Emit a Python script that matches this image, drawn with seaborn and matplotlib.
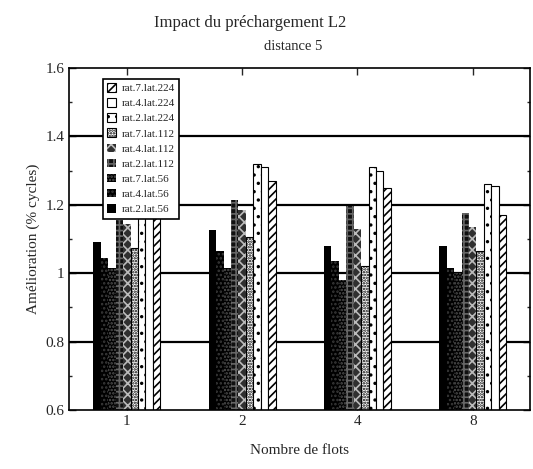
import pandas as pd
import matplotlib
import seaborn as sns
from matplotlib import pyplot as plt
from matplotlib.patches import Patch

matplotlib.use('Agg')

# data
flots = ['1', '2', '4', '8']
series = ['rat.2.lat.56', 'rat.4.lat.56', 'rat.7.lat.56',
          'rat.2.lat.112', 'rat.4.lat.112', 'rat.7.lat.112',
          'rat.2.lat.224', 'rat.4.lat.224', 'rat.7.lat.224']
rat2_lat56 = [1.09, 1.125, 1.08, 1.08]
rat4_lat56 = [1.045, 1.065, 1.035, 1.015]
rat7_lat56 = [1.015, 1.015, 0.98, 1.00]
rat2_lat112 = [1.155, 1.215, 1.195, 1.175]
rat4_lat112 = [1.145, 1.185, 1.13, 1.135]
rat7_lat112 = [1.075, 1.105, 1.02, 1.065]
rat2_lat224 = [1.25, 1.32, 1.31, 1.26]
rat4_lat224 = [1.24, 1.31, 1.30, 1.255]
rat7_lat224 = [1.22, 1.27, 1.25, 1.17]
yticks = [0.6, 0.8, 1.0, 1.2, 1.4, 1.6]
ytick_labels = ['0.6', '0.8', '1', '1.2', '1.4', '1.6']

values = [rat2_lat56, rat4_lat56, rat7_lat56, rat2_lat112, rat4_lat112,
          rat7_lat112, rat2_lat224, rat4_lat224, rat7_lat224]

rows = []
for name, vals in zip(series, values):
    for f, v in zip(flots, vals):
        rows.append({'flots': f, 'serie': name, 'val': v})
df = pd.DataFrame(rows)

# (facecolor, edgecolor, hatch, linewidth)
styles = [
    ('black', 'black', None, 0.0),
    ('black', '#3a3a3a', '....', 0.0),
    ('black', '#555555', '.....', 0.0),
    ('#101010', '#666666', '+++', 0.0),
    ('#303030', '#bbbbbb', 'xxx', 0.0),
    ('white', 'black', '......', 0.8),
    ('white', 'black', '..', 0.8),
    ('white', 'black', None, 0.8),
    ('white', 'black', '////', 0.8),
]

sns.set_style('ticks')
plt.rcParams['font.family'] = ['Liberation Serif', 'DejaVu Serif']
plt.rcParams['hatch.linewidth'] = 1.2

fig = plt.figure(figsize=(5.33, 4.69), dpi=100)
ax = fig.add_axes([0.13, 0.126, 0.865, 0.729])

ax = sns.barplot(data=df, x='flots', y='val', hue='serie', order=flots,
                 hue_order=series, width=0.58, errorbar=None, legend=False,
                 ax=ax, zorder=2)

for cont, (fc, ec, hatch, lw) in zip(ax.containers, styles):
    for bar in cont:
        bar.set_facecolor(fc)
        bar.set_edgecolor(ec)
        bar.set_hatch(hatch)
        bar.set_linewidth(lw)

for y in yticks[1:-1]:
    ax.axhline(y, color='black', lw=1.6, zorder=1)

ax.set_ylim(0.6, 1.6)
ax.set_xlim(-0.5, 3.5)
ax.set_yticks(yticks, ytick_labels)
ax.set_yticks([0.7, 0.9, 1.1, 1.3, 1.5], minor=True)
ax.tick_params(direction='in', top=True, right=True, labelsize=11,
               length=5, width=1)
ax.tick_params(which='minor', direction='in', left=True, right=True,
               length=2, width=1)
for s in ax.spines.values():
    s.set_linewidth(1.2)
    s.set_color('black')

ax.set_xlabel('Nombre de flots', fontsize=11, labelpad=12)
ax.set_ylabel('Amélioration (% cycles)', fontsize=11, labelpad=4)

handles = []
for name, (fc, ec, hatch, lw) in zip(series, styles):
    handles.append(Patch(facecolor=fc, edgecolor=ec, hatch=hatch,
                         linewidth=lw, label=name))
handles = handles[::-1]
leg = ax.legend(handles=handles, loc='upper left',
                bbox_to_anchor=(0.06, 0.985), fontsize=8,
                handlelength=0.8, handleheight=0.8, handletextpad=0.5,
                labelspacing=0.45, borderpad=0.4, fancybox=False,
                framealpha=1, edgecolor='black')
leg.get_frame().set_linewidth(1.2)
leg.set_zorder(5)

fig.text(0.47, 0.952, 'Impact du préchargement L2', ha='center',
         va='center', fontsize=12)
fig.text(0.55, 0.9, 'distance 5', ha='center', va='center', fontsize=10.5)

plt.savefig('out.png', dpi=100)
plt.close('all')
